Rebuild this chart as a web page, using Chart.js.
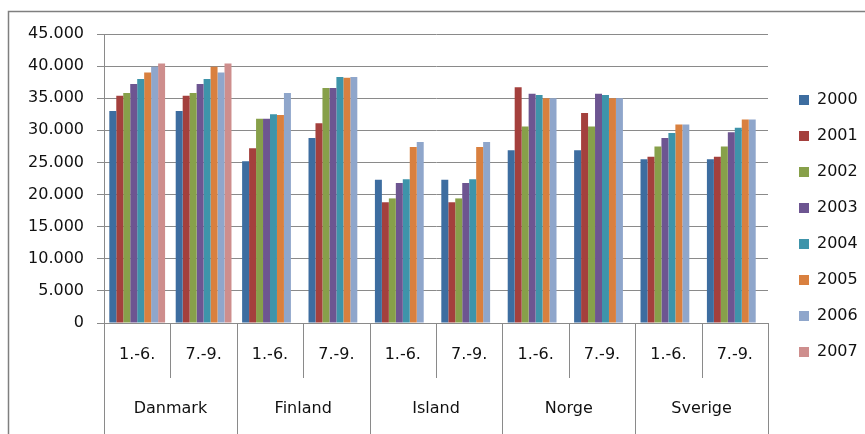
<!DOCTYPE html>
<html>
<head>
<meta charset="utf-8">
<script src="https://cdn.jsdelivr.net/npm/chart.js@4/dist/chart.umd.min.js"></script>
<style>
  html, body { margin:0; padding:0; background:#fff; }
  #wrap { width:865px; height:434px; position:relative; }
</style>
</head>
<body>
<div id="wrap"><canvas id="chart" width="865" height="434"></canvas></div>
<script>
  /* ── Data ── */
  const countries = ['Danmark', 'Finland', 'Island', 'Norge', 'Sverige'];
  const periods   = ['1.-6.', '7.-9.', '1.-6.', '7.-9.', '1.-6.', '7.-9.', '1.-6.', '7.-9.', '1.-6.', '7.-9.'];
  const years     = ['2000', '2001', '2002', '2003', '2004', '2005', '2006', '2007'];

  const v2000 = [33000, 33000, 25200, 28800, 22300, 22300, 26900, 26900, 25500, 25500];
  const v2001 = [35400, 35400, 27200, 31100, 18800, 18800, 36700, 32700, 25900, 25900];
  const v2002 = [35800, 35800, 31800, 36600, 19400, 19400, 30600, 30600, 27500, 27500];
  const v2003 = [37200, 37200, 31800, 36600, 21800, 21800, 35700, 35700, 28800, 29700];
  const v2004 = [38000, 38000, 32500, 38300, 22400, 22400, 35500, 35500, 29600, 30400];
  const v2005 = [39000, 39900, 32400, 38200, 27400, 27400, 35000, 35000, 30900, 31700];
  const v2006 = [39900, 39000, 35800, 38300, 28200, 28200, 35000, 35000, 30900, 31700];
  const v2007 = [40400, 40400, null, null, null, null, null, null, null, null];

  const yTicks = [0, 5000, 10000, 15000, 20000, 25000, 30000, 35000, 40000, 45000];

  const seriesValues = [v2000, v2001, v2002, v2003, v2004, v2005, v2006, v2007];
  const palette = ['#3D6DA0', '#A4403D', '#87A04A', '#6D5591', '#3E94AA', '#D9803F', '#8FA6CB', '#CE8E8D'];

  const FONT = { family: '"DejaVu Sans", sans-serif', size: 16 };
  const TEXT = '#111';
  const LINE = '#8a8a8a';

  function fmt(v){ return String(v).replace(/\B(?=(\d{3})+(?!\d))/g, '.'); }

  /* ── Frame, separators and country labels under the axis ── */
  const groupAxis = {
    id: 'groupAxis',
    beforeDraw(chart){
      const ctx = chart.ctx;
      ctx.save();
      ctx.strokeStyle = '#7f7f7f';
      ctx.lineWidth = 1.5;
      ctx.strokeRect(8.5, 11.5, 900, 500);
      ctx.restore();
    },
    afterDraw(chart){
      const x = chart.scales.x;
      const ctx = chart.ctx;
      const base = chart.chartArea.bottom;
      ctx.save();
      ctx.strokeStyle = LINE;
      ctx.lineWidth = 1;
      for(let i = 0; i <= periods.length; i++){
        const px = Math.round(x.getPixelForValue(i - 0.5)) + 0.5;
        ctx.beginPath();
        ctx.moveTo(px, base);
        ctx.lineTo(px, i % 2 === 0 ? chart.height : base + 55);
        ctx.stroke();
      }
      ctx.fillStyle = TEXT;
      ctx.font = FONT.size + 'px ' + FONT.family;
      ctx.textAlign = 'center';
      ctx.textBaseline = 'middle';
      countries.forEach(function(c, k){
        const cx = (x.getPixelForValue(2*k) + x.getPixelForValue(2*k + 1)) / 2;
        ctx.fillText(c, cx, base + 86);
      });
      ctx.restore();
    }
  };

  new Chart(document.getElementById('chart'), {
    type: 'bar',
    data: {
      labels: periods,
      datasets: years.map(function(y, i){
        return {
          label: y,
          data: seriesValues[i],
          backgroundColor: palette[i],
          borderWidth: 0,
          categoryPercentage: 0.84,
          barPercentage: 1.0
        };
      })
    },
    options: {
      responsive: false,
      animation: false,
      devicePixelRatio: 1,
      layout: { padding: { top: 34, bottom: 16, left: 0, right: 0 } },
      plugins: {
        tooltip: { enabled: false },
        legend: {
          position: 'right',
          maxWidth: 86,
          labels: {
            font: FONT,
            color: TEXT,
            boxWidth: 10,
            boxHeight: 10,
            padding: 20
          }
        }
      },
      scales: {
        x: {
          grid: { display: true, drawOnChartArea: false, drawTicks: false },
          border: { display: true, color: LINE, width: 1 },
          ticks: { font: FONT, color: TEXT, padding: 22, maxRotation: 0, autoSkip: false },
          afterFit: function(s){ s.height = 95; }
        },
        y: {
          min: 0,
          max: 45000,
          afterBuildTicks: function(s){ s.ticks = yTicks.map(function(v){ return { value: v }; }); },
          grid: { color: LINE, lineWidth: 1, tickLength: 7, tickColor: LINE },
          border: { display: true, color: LINE, width: 1 },
          ticks: { font: FONT, color: TEXT, padding: 13, callback: function(v){ return fmt(v); } },
          afterFit: function(s){ s.width = 104; }
        },
        gap: {
          type: 'linear',
          position: 'right',
          display: true,
          grid: { display: false },
          border: { display: false },
          ticks: { display: false },
          afterFit: function(s){ s.width = 11; }
        }
      }
    },
    plugins: [groupAxis]
  });
</script>
</body>
</html>
